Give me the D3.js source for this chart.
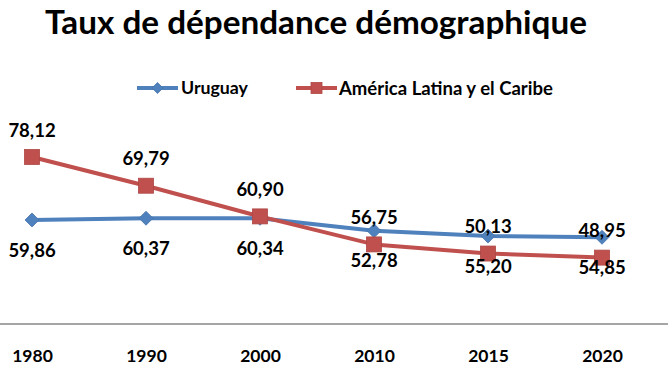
<!DOCTYPE html>
<html>
<head>
<meta charset="utf-8">
<script src="https://cdn.jsdelivr.net/npm/d3@7/dist/d3.min.js"></script>
<style>
  html, body { margin: 0; padding: 0; background: #ffffff; }
  svg { display: block; }
  text { font-family: Lato, "Open Sans", "DejaVu Sans", sans-serif; font-weight: bold; fill: #000; }
</style>
</head>
<body>
<svg id="chart" width="672" height="371"></svg>
<script>
const title = "Taux de dépendance démographique";
const categories = ["1980", "1990", "2000", "2010", "2015", "2020"];
const seriesNames = ["Uruguay", "América Latina y el Caribe"];
const uruguayValues = [59.86, 60.37, 60.34, 56.75, 55.20, 54.85];
const latamValues = [78.12, 69.79, 60.90, 52.78, 50.13, 48.95];
const uruguayLabels = ["59,86", "60,37", "60,34", "52,78", "55,20", "54,85"];
const latamLabels = ["78,12", "69,79", "60,90", "56,75", "50,13", "48,95"];
const yDomain = [30, 80];

const colors = { uru: "#4F81BD", lat: "#C0504D" };

const svg = d3.select("#chart");

function fit(sel, base, target) {
  const w = sel.node().getComputedTextLength();
  sel.style("font-size", (base * target / w).toFixed(2) + "px");
}

// Title, fitted to width
const t = svg.append("text")
  .attr("x", 316).attr("y", 34)
  .attr("text-anchor", "middle")
  .style("font-size", "34px")
  .text(title);
fit(t, 34, 542);

// Scales
const x = d3.scalePoint().domain(categories).range([32, 602]);
const y = d3.scaleLinear().domain(yDomain).range([323, 150.5]);

// Category axis
const axisG = svg.append("g").attr("transform", "translate(0,324)")
  .call(d3.axisBottom(x).tickSize(0).tickPadding(26));
axisG.select(".domain").remove();
axisG.append("line").attr("x1", 0).attr("x2", 668).attr("y1", 0).attr("y2", 0)
  .attr("stroke", "#a6a6a6").attr("stroke-width", 2);
axisG.selectAll(".tick text")
  .attr("fill", "#000")
  .style("font-family", "Lato, 'Open Sans', sans-serif")
  .style("font-weight", "bold")
  .style("font-size", "17.5px");

// Lines
const line = d3.line().x((d, i) => x(categories[i])).y(d => y(d));

function diamond(g, cx, cy, r, color) {
  g.append("path")
    .attr("d", `M${cx},${cy - r}L${cx + r},${cy}L${cx},${cy + r}L${cx - r},${cy}Z`)
    .attr("fill", color).attr("stroke", d3.color(color).darker(0.3)).attr("stroke-width", 0.8);
}
function square(g, cx, cy, s, color) {
  g.append("rect")
    .attr("x", cx - s / 2).attr("y", cy - s / 2).attr("width", s).attr("height", s)
    .attr("fill", color).attr("stroke", d3.color(color).darker(0.3)).attr("stroke-width", 0.8);
}

const gU = svg.append("g");
gU.append("path").datum(uruguayValues).attr("d", line)
  .attr("fill", "none").attr("stroke", colors.uru).attr("stroke-width", 4).attr("stroke-linejoin", "round");
uruguayValues.forEach((v, i) => diamond(gU, x(categories[i]), y(v), 7, colors.uru));

const gL = svg.append("g");
gL.append("path").datum(latamValues).attr("d", line)
  .attr("fill", "none").attr("stroke", colors.lat).attr("stroke-width", 4).attr("stroke-linejoin", "round");
latamValues.forEach((v, i) => square(gL, x(categories[i]), y(v), 15, colors.lat));

// Data labels
svg.append("g").selectAll("text").data(latamValues).join("text")
  .attr("x", (d, i) => x(categories[i]))
  .attr("y", d => y(d) - 27)
  .attr("dy", "0.36em")
  .attr("text-anchor", "middle")
  .style("font-size", "18.5px")
  .text((d, i) => latamLabels[i]);

svg.append("g").selectAll("text").data(uruguayValues).join("text")
  .attr("x", (d, i) => x(categories[i]))
  .attr("y", d => y(d) + 30)
  .attr("dy", "0.36em")
  .attr("text-anchor", "middle")
  .style("font-size", "18.5px")
  .text((d, i) => uruguayLabels[i]);

// Legend
const lg = svg.append("g");
lg.append("line").attr("x1", 137).attr("x2", 178).attr("y1", 88).attr("y2", 88)
  .attr("stroke", colors.uru).attr("stroke-width", 4);
diamond(lg, 157.5, 88, 5.5, colors.uru);
const l1 = lg.append("text").attr("x", 181).attr("y", 88).attr("dy", "0.36em")
  .style("font-size", "16px").text(seriesNames[0]);
fit(l1, 16, 67);
lg.append("line").attr("x1", 296).attr("x2", 337).attr("y1", 88).attr("y2", 88)
  .attr("stroke", colors.lat).attr("stroke-width", 4);
square(lg, 316.5, 88, 11, colors.lat);
const l2 = lg.append("text").attr("x", 339).attr("y", 88).attr("dy", "0.36em")
  .style("font-size", "16px").text(seriesNames[1]);
fit(l2, 16, 214);
</script>
</body>
</html>
